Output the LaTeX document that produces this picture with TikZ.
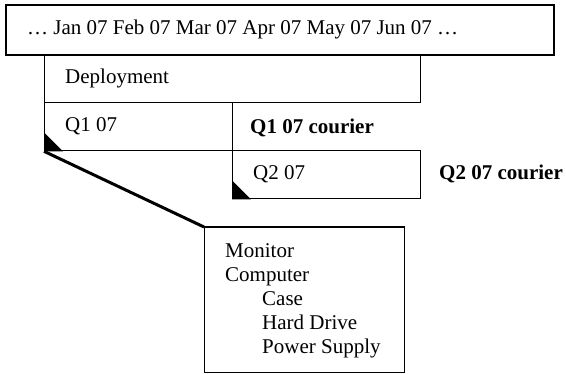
\documentclass[tikz,border=0pt]{standalone}
\usepackage{fontspec}
\setmainfont{Liberation Serif}
\begin{document}
\begin{tikzpicture}[x=1pt,y=-1pt,
  box/.style={draw, line width=1.3pt, rectangle, inner sep=0pt, anchor=north west},
  lbl/.style={anchor=west, inner sep=0pt, text height=16pt, text depth=4pt, font=\fontsize{21}{24}\selectfont},
  blbl/.style={lbl, font=\fontsize{21}{24}\selectfont\bfseries},
  corner/.style={fill=black},
  zoomline/.style={line width=3pt},
]
\useasboundingbox (0,0) rectangle (566,374);
% boxes
\node[box, line width=2pt, minimum width=548pt, minimum height=50pt] (top) at (5,4) {};
\node[box, minimum width=376pt, minimum height=48pt] (dep) at (44,54) {};
\node[box, minimum width=188pt, minimum height=48pt] (q1) at (44,102) {};
\node[box, minimum width=188pt, minimum height=48pt] (q2) at (232,150) {};
\node[box, minimum width=200pt, minimum height=145pt] (mon) at (204,227) {};
\draw[line width=2.2pt] (mon.north west) -- (mon.north east);
% texts
\node[lbl] (toptext) at (27,29) {… Jan 07 Feb 07 Mar 07 Apr 07 May 07 Jun 07 …};
\node[lbl] (deptext) at (65,78) {Deployment};
\node[lbl] (q1text) at (65,126) {Q1 07};
\node[blbl] (q1c) at (250,128) {Q1 07 courier};
\node[lbl] (q2text) at (253,174) {Q2 07};
\node[blbl] (q2c) at (439,174) {Q2 07 courier};
\node[lbl] (m1) at (225,252) {Monitor};
\node[lbl] (m2) at (225,276) {Computer};
\node[lbl] (m3) at (262,300) {Case};
\node[lbl] (m4) at (262,324) {Hard Drive};
\node[lbl] (m5) at (262,348) {Power Supply};
% corner marks
\fill[corner] (q1.south west) -- ++(19,0) -- ++(-19,-19) -- cycle;
\fill[corner] (q2.south west) -- ++(19,0) -- ++(-19,-19) -- cycle;
% zoom connector
\draw[zoomline] (q1.south west) -- (mon.north west);
\end{tikzpicture}
\end{document}
